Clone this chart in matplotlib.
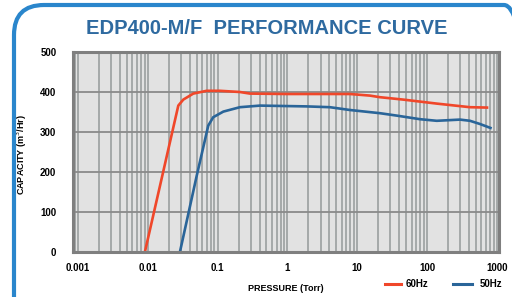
import matplotlib
matplotlib.use("Agg")
import matplotlib.pyplot as plt
from matplotlib.patches import FancyBboxPatch
from matplotlib.lines import Line2D
from matplotlib.transforms import IdentityTransform
from matplotlib.ticker import LogLocator, FixedLocator, NullFormatter

# EDP400-M/F performance curve
p60 = [0.0091, 0.0274, 0.0323, 0.0449, 0.0698, 0.108, 0.209, 0.291, 1.0, 3.0, 7.88, 15.2, 21.2, 45.7, 138, 413, 756]
q60 = [0, 366, 381, 396, 403, 403, 400, 396, 395, 395, 395, 391, 387, 381, 371, 362, 361]

p50 = [0.0289, 0.0502, 0.0736, 0.0867, 0.121, 0.209, 0.405, 1.89, 4.07, 7.88, 21.2, 36.8, 79.4, 138, 297, 413, 574, 845]
q50 = [0, 190, 316, 337, 351, 362, 366, 364, 362, 355, 347, 341, 332, 328, 331, 328, 320, 309]

yticks = [0, 100, 200, 300, 400, 500]
xticks = [0.001, 0.01, 0.1, 1, 10, 100, 1000]
xticklabels = ['0.001', '0.01', '0.1', '1', '10', '100', '1000']

RED = '#f0472a'
BLUE = '#2a6599'
TITLE = '#2e6aa0'
FONT = ['Liberation Sans Narrow', 'Liberation Sans', 'DejaVu Sans']

W, H = 512, 297
fig = plt.figure(figsize=(W / 100, H / 100), dpi=100)

# blue rounded frame around the card (pixel coords, runs off right and bottom)
frame = FancyBboxPatch((14, -60), 520, 352,
                       boxstyle='round,pad=0,rounding_size=30',
                       transform=IdentityTransform(), fill=False,
                       edgecolor='#2a86cc', linewidth=3.0, clip_on=False)
fig.add_artist(frame)

fig.text(267 / W, 1 - 28 / H, 'EDP400-M/F  PERFORMANCE CURVE', ha='center', va='center',
         fontsize=14.5, fontweight='bold', color=TITLE, family=['Liberation Sans', 'DejaVu Sans'])

ax = fig.add_axes([73 / W, 45 / H, 426 / W, 200 / H])
ax.set_facecolor('#e2e2e2')
ax.set_xscale('log')
ax.set_xlim(0.00085, 1075)
ax.set_ylim(0, 500)

ax.xaxis.set_major_locator(FixedLocator(xticks))
ax.xaxis.set_minor_locator(LogLocator(base=10, subs=range(2, 10), numticks=20))
ax.xaxis.set_minor_formatter(NullFormatter())
ax.set_xticks(xticks)
ax.set_xticklabels(xticklabels)
ax.set_yticks(yticks)

ax.grid(True, which='both', axis='x', color='#a0a4a4', lw=1.3)
ax.grid(True, which='major', axis='y', color='#8a8a8a', lw=1.3)
ax.set_axisbelow(True)
ax.tick_params(which='both', length=0)
ax.tick_params(axis='y', pad=12)
ax.tick_params(axis='x', pad=8)
for lab in ax.get_xticklabels() + ax.get_yticklabels():
    lab.set_fontsize(7)
    lab.set_fontweight('bold')
    lab.set_family(FONT)

for s in ax.spines.values():
    s.set_color('#7f7f7f')
    s.set_linewidth(2.2)

ax.plot(p60, q60, color=RED, lw=1.9, solid_capstyle='butt')
ax.plot(p50, q50, color=BLUE, lw=1.9, solid_capstyle='butt')

ax.set_ylabel('CAPACITY (m$^3$/Hr)', fontsize=6.5, fontweight='bold', family=FONT)
ax.yaxis.set_label_coords((29 - 73) / 426, 0.49)
ax.set_xlabel('PRESSURE (Torr)', fontsize=6.5, fontweight='bold', family=FONT, labelpad=8)

# legend
y_leg = 1 - 284 / H
fig.add_artist(Line2D([385 / W, 401 / W], [y_leg, y_leg], color=RED, lw=2.2))
fig.text(406 / W, y_leg, '60Hz', va='center', fontsize=7, fontweight='bold', family=FONT)
fig.add_artist(Line2D([453 / W, 472 / W], [y_leg, y_leg], color=BLUE, lw=2.2))
fig.text(480 / W, y_leg, '50Hz', va='center', fontsize=7, fontweight='bold', family=FONT)

fig.savefig('out.png', dpi=100)
